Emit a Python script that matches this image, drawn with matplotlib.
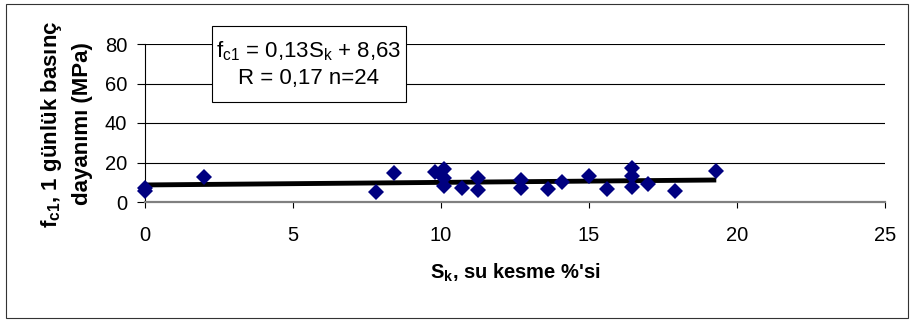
import matplotlib
matplotlib.use("Agg")
import matplotlib.pyplot as plt
from matplotlib.patches import Rectangle
import numpy as np

plt.rcParams['font.family'] = ['Liberation Sans', 'DejaVu Sans']
plt.rcParams['mathtext.fontset'] = 'custom'
plt.rcParams['mathtext.rm'] = 'Liberation Sans'
plt.rcParams['mathtext.it'] = 'Liberation Sans'
plt.rcParams['mathtext.bf'] = 'Liberation Sans:bold'
plt.rcParams['mathtext.default'] = 'regular'

# Data
sk = [0, 0, 2.0, 7.8, 8.4, 9.8, 10.1, 10.1, 10.1, 10.7, 11.25, 11.25,
      12.7, 12.7, 13.6, 14.1, 15.0, 15.6, 16.45, 16.45, 16.45, 17.0, 17.9, 19.3]
fc1 = [5.5, 7.0, 12.5, 4.9, 14.5, 15.3, 16.5, 12.0, 8.0, 7.0, 12.3, 6.0,
       11.0, 7.0, 6.5, 10.3, 13.3, 6.4, 17.0, 13.0, 7.8, 9.3, 5.6, 15.7]
slope = 0.13
intercept = 8.63
x_ticks = [0, 5, 10, 15, 20, 25]
y_ticks = [0, 20, 40, 60, 80]
eq_text = "f$_{c1}$ = 0,13S$_k$ + 8,63\nR = 0,17 n=24"
ylabel = "f$_{\\mathbf{c1}}$, 1 günlük basınç\ndayanımı (MPa)"
xlabel = "S$_{\\mathbf{k}}$, su kesme %'si"

W, H = 912, 320
fig = plt.figure(figsize=(W/100, H/100), dpi=100)
fig.patch.set_facecolor('white')

L, R, T, B = 145, 885, 44, 202
ax = fig.add_axes([L/W, 1-B/H, (R-L)/W, (B-T)/H])
ax.set_xlim(0, 25)
ax.set_ylim(0, 80)

for yv in y_ticks[1:]:
    ax.axhline(yv, color='black', lw=0.8, zorder=1)

ax.set_xticks(x_ticks)
ax.set_yticks(y_ticks)
ax.tick_params(axis='x', direction='out', length=4.3, width=0.8, pad=13, labelsize=14.5, color='black')
ax.tick_params(axis='y', direction='out', length=5.8, width=0.8, pad=7, labelsize=14.5, color='black')

for s in ['top', 'right']:
    ax.spines[s].set_visible(False)
ax.spines['left'].set_color('black')
ax.spines['left'].set_linewidth(0.8)
ax.spines['bottom'].set_color('#808080')
ax.spines['bottom'].set_linewidth(1.6)

xs = np.array([min(sk), max(sk)])
ax.plot(xs, slope*xs + intercept, color='black', lw=3.5, zorder=3, solid_capstyle='butt')
ax.plot(sk, fc1, linestyle='none', marker='D', markersize=8, color='#000080',
        markeredgewidth=0, zorder=4, clip_on=False)

# equation box
bx0, by0, bx1, by1 = 212, 26, 406, 102
fig.patches.append(Rectangle((bx0/W, 1-by1/H), (bx1-bx0)/W, (by1-by0)/H,
                             transform=fig.transFigure, facecolor='white',
                             edgecolor='black', lw=0.8, zorder=5))
fig.text((bx0+bx1)/2/W, 1-(by0+by1)/2/H, eq_text, ha='center', va='center',
         fontsize=16, linespacing=1.3, zorder=6)

fig.text(66/W, 1-124/H, ylabel, rotation=90, ha='center', va='center',
         fontsize=16, fontweight='bold', linespacing=1.5, multialignment='center')
fig.text(515/W, 1-273/H, xlabel, ha='center', va='center', fontsize=14.5, fontweight='bold')

fig.patches.append(Rectangle((6/W, 1-318/H), (908-6)/W, (318-4)/H,
                             transform=fig.transFigure, facecolor='none',
                             edgecolor='#333333', lw=0.8, zorder=0))

fig.savefig('out.png', dpi=100, facecolor='white')
